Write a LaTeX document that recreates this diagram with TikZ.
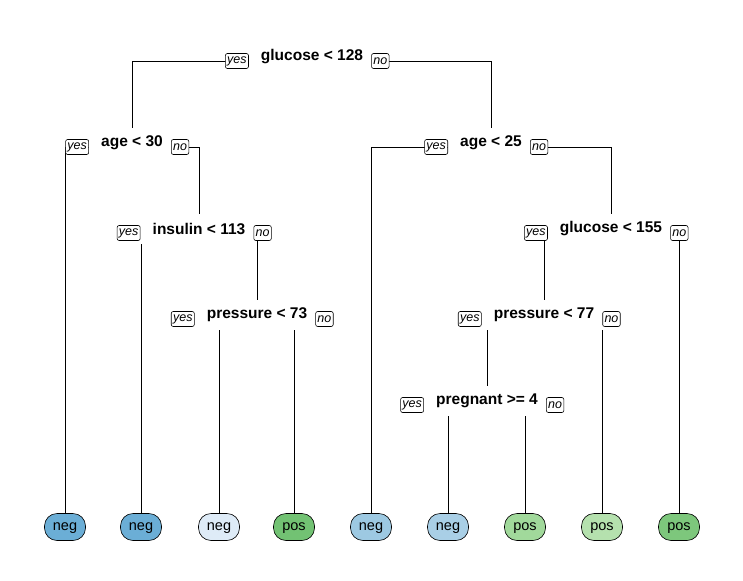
\documentclass[tikz,border=0pt]{standalone}
\usepackage{fontspec}
\setmainfont{Liberation Sans}
\usetikzlibrary{backgrounds}

% leaf fill colours
\definecolor{negA}{HTML}{6BAED6}
\definecolor{negB}{HTML}{DEEBF7}
\definecolor{negC}{HTML}{9DC9E2}
\definecolor{negD}{HTML}{A9CFE6}
\definecolor{posA}{HTML}{72C273}
\definecolor{posB}{HTML}{A1D99B}
\definecolor{posC}{HTML}{B5E1AE}
\definecolor{posD}{HTML}{7DC77C}

\tikzset{
  split/.style={fill=white, inner xsep=12pt, inner ysep=0pt, minimum height=30pt,
                yshift=-2pt, font=\bfseries\fontsize{15.5}{18}\selectfont},
  yesno/.style={draw, fill=white, rounded corners=2pt, line width=0.6pt,
                inner xsep=1.8pt, inner ysep=0pt, minimum height=15pt,
                font=\itshape\fontsize{12.5}{14}\selectfont},
  leaf/.style={draw, rounded corners=12.5pt, line width=0.6pt, minimum width=41pt,
               minimum height=27pt, inner sep=0pt, text depth=0pt,
               font=\fontsize{14.5}{16}\selectfont},
  branch/.style={line width=0.75pt},
}

% yes / no tags beside a split label
\newcommand{\yesno}[1]{%
  \node[yesno, anchor=east] (#1y) at ([yshift=-4pt]#1.west) {yes};
  \node[yesno, anchor=west] (#1n) at ([xshift=-4pt,yshift=-4pt]#1.east) {no};
}

\begin{document}
\begin{tikzpicture}[x=1pt, y=-1pt]
\useasboundingbox (0,0) rectangle (743,580);

% split nodes
\node[split] (r) at (312,55)  {glucose < 128};
\node[split] (a) at (132,141) {age < 30};
\node[split] (b) at (199,227) {insulin < 113};
\node[split] (c) at (257,313) {pressure < 73};
\node[split] (d) at (491,141) {age < 25};
\node[split] (e) at (611,227) {glucose < 155};
\node[split] (f) at (544,313) {pressure < 77};
\node[split] (g) at (487,399) {pregnant >= 4};

\yesno{r}\yesno{a}\yesno{b}\yesno{c}\yesno{d}\yesno{e}\yesno{f}\yesno{g}

% leaves
\node[leaf, fill=negA] (l1) at (65,527)  {neg};
\node[leaf, fill=negA] (l2) at (141,527) {neg};
\node[leaf, fill=negB] (l3) at (219,527) {neg};
\node[leaf, fill=posA] (l4) at (294,527) {pos};
\node[leaf, fill=negC] (l5) at (371,527) {neg};
\node[leaf, fill=negD] (l6) at (448,527) {neg};
\node[leaf, fill=posB] (l7) at (525,527) {pos};
\node[leaf, fill=posC] (l8) at (602,527) {pos};
\node[leaf, fill=posD] (l9) at (679,527) {pos};

% branches, drawn beneath the labels and tags
\begin{scope}[on background layer, branch]
  \draw ([yshift=-4pt]r.center) -| (a.center);
  \draw ([yshift=-4pt]r.center) -| (d.center);
  \draw ([yshift=-4pt]a.center) -| (l1.center);
  \draw ([yshift=-4pt]a.center) -| (b.center);
  \draw ([yshift=-4pt]b.center) -| (l2.center);
  \draw ([yshift=-4pt]b.center) -| (c.center);
  \draw ([yshift=-4pt]c.center) -| (l3.center);
  \draw ([yshift=-4pt]c.center) -| (l4.center);
  \draw ([yshift=-4pt]d.center) -| (l5.center);
  \draw ([yshift=-4pt]d.center) -| (e.center);
  \draw ([yshift=-4pt]e.center) -| (f.center);
  \draw ([yshift=-4pt]e.center) -| (l9.center);
  \draw ([yshift=-4pt]f.center) -| (g.center);
  \draw ([yshift=-4pt]f.center) -| (l8.center);
  \draw ([yshift=-4pt]g.center) -| (l6.center);
  \draw ([yshift=-4pt]g.center) -| (l7.center);
\end{scope}
\end{tikzpicture}
\end{document}
